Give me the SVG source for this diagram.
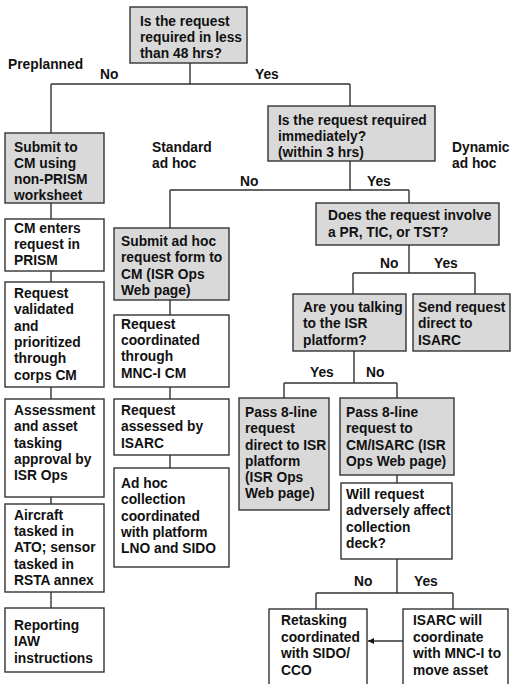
<svg xmlns="http://www.w3.org/2000/svg" width="511" height="684" viewBox="0 0 511 684">
<style>
.b{fill:#fff;stroke:#333;stroke-width:1.4}
.g{fill:#d9d9d9;stroke:#333;stroke-width:1.4}
text{font-family:"Liberation Sans",Arial,sans-serif;font-weight:bold;font-size:13.8px;fill:#111}
.c path{fill:none;stroke:#333;stroke-width:1.4}
</style>
<defs>
<marker id="ah" viewBox="0 0 10 10" refX="10" refY="5" markerWidth="6" markerHeight="6" orient="auto" markerUnits="userSpaceOnUse">
<path d="M0,0L10,5L0,10z" fill="#111"/>
</marker>
</defs>
<rect width="511" height="684" fill="#fff"/>
<g class="c" id="connectors">
<path d="M190,63V84M51,84H350M51,84V133M350,84V106"/>
<path d="M51,203V219M51,271V282M51,387V399M51,497V504M51,592V608"/>
<path d="M350,161V190M170,190H409M170,190V228M409,190V203"/>
<path d="M170,300V315M170,387V399M170,455V468"/>
<path d="M409,245V273M353,273H475M353,273V294M475,273V294"/>
<path d="M354,351V383M284,383H397M284,383V398M397,383V398"/>
<path d="M397,475V483M397,559V593M316,593H453M316,593V609M453,593V609"/>
<path d="M403,641H368" marker-end="url(#ah)"/>
</g>
<g id="labels">
<text x="8" y="69">Preplanned</text>
<text x="100" y="79">No</text>
<text x="255" y="79">Yes</text>
<text x="152" y="152">Standard</text>
<text x="152" y="168">ad hoc</text>
<text x="452" y="152">Dynamic</text>
<text x="452" y="168">ad hoc</text>
<text x="240" y="186">No</text>
<text x="367" y="186">Yes</text>
<text x="380" y="268">No</text>
<text x="434" y="268">Yes</text>
<text x="310" y="377">Yes</text>
<text x="366" y="377">No</text>
<text x="354" y="586">No</text>
<text x="414" y="586">Yes</text>
</g>
<g id="q48">
<rect class="g" x="130" y="7" width="117" height="56"/>
<text x="140" y="26">Is the request</text>
<text x="140" y="42">required in less</text>
<text x="140" y="58">than 48 hrs?</text>
</g>
<g id="qimm">
<rect class="g" x="268" y="106" width="167" height="55"/>
<text x="278" y="125">Is the request required</text>
<text x="278" y="141">immediately?</text>
<text x="278" y="157">(within 3 hrs)</text>
</g>
<g id="qpr">
<rect class="g" x="316" y="203" width="183" height="42"/>
<text x="328" y="220">Does the request involve</text>
<text x="328" y="237">a PR, TIC, or TST?</text>
</g>
<g id="qtalk">
<rect class="g" x="293" y="294" width="113" height="57"/>
<text x="303" y="312">Are you talking</text>
<text x="303" y="328">to the ISR</text>
<text x="303" y="345">platform?</text>
</g>
<g id="send">
<rect class="g" x="413" y="294" width="97" height="57"/>
<text x="418" y="312">Send request</text>
<text x="418" y="328">direct to</text>
<text x="418" y="345">ISARC</text>
</g>
<g id="passdirect">
<rect class="g" x="239" y="398" width="90" height="112"/>
<text x="245" y="417">Pass 8-line</text>
<text x="245" y="433">request</text>
<text x="245" y="450">direct to ISR</text>
<text x="245" y="466">platform</text>
<text x="245" y="482">(ISR Ops</text>
<text x="245" y="498">Web page)</text>
</g>
<g id="passcm">
<rect class="g" x="340" y="398" width="114" height="77"/>
<text x="346" y="417">Pass 8-line</text>
<text x="346" y="433">request to</text>
<text x="346" y="450">CM/ISARC (ISR</text>
<text x="346" y="466">Ops Web page)</text>
</g>
<g id="will">
<rect class="b" x="341" y="483" width="111" height="76"/>
<text x="346" y="499">Will request</text>
<text x="346" y="515">adversely affect</text>
<text x="346" y="532">collection</text>
<text x="346" y="548">deck?</text>
</g>
<g id="retask">
<rect class="b" x="269" y="609" width="98" height="85"/>
<text x="281" y="625">Retasking</text>
<text x="281" y="642">coordinated</text>
<text x="281" y="658">with SIDO/</text>
<text x="281" y="675">CCO</text>
</g>
<g id="isarc">
<rect class="b" x="403" y="609" width="105" height="85"/>
<text x="413" y="625">ISARC will</text>
<text x="413" y="642">coordinate</text>
<text x="413" y="658">with MNC-I to</text>
<text x="413" y="675">move asset</text>
</g>
<g id="submitcm">
<rect class="g" x="5" y="133" width="99" height="70"/>
<text x="14" y="152">Submit to</text>
<text x="14" y="168">CM using</text>
<text x="14" y="184">non-PRISM</text>
<text x="14" y="200">worksheet</text>
</g>
<g id="cmenters">
<rect class="b" x="5" y="219" width="99" height="52"/>
<text x="14" y="233">CM enters</text>
<text x="14" y="249">request in</text>
<text x="14" y="265">PRISM</text>
</g>
<g id="validated">
<rect class="b" x="5" y="282" width="99" height="105"/>
<text x="14" y="298">Request</text>
<text x="14" y="314">validated</text>
<text x="14" y="331">and</text>
<text x="14" y="347">prioritized</text>
<text x="14" y="363">through</text>
<text x="14" y="380">corps CM</text>
</g>
<g id="assessment">
<rect class="b" x="5" y="399" width="99" height="98"/>
<text x="14" y="415">Assessment</text>
<text x="14" y="431">and asset</text>
<text x="14" y="448">tasking</text>
<text x="14" y="464">approval by</text>
<text x="14" y="480">ISR Ops</text>
</g>
<g id="aircraft">
<rect class="b" x="5" y="504" width="99" height="88"/>
<text x="14" y="520">Aircraft</text>
<text x="14" y="536">tasked in</text>
<text x="14" y="552">ATO; sensor</text>
<text x="14" y="569">tasked in</text>
<text x="14" y="585">RSTA annex</text>
</g>
<g id="reporting">
<rect class="b" x="5" y="608" width="99" height="64"/>
<text x="14" y="630">Reporting</text>
<text x="14" y="646">IAW</text>
<text x="14" y="663">instructions</text>
</g>
<g id="submitadhoc">
<rect class="g" x="114" y="228" width="115" height="72"/>
<text x="121" y="246">Submit ad hoc</text>
<text x="121" y="262">request form to</text>
<text x="121" y="279">CM (ISR Ops</text>
<text x="121" y="295">Web page)</text>
</g>
<g id="coordinated">
<rect class="b" x="114" y="315" width="115" height="72"/>
<text x="121" y="329">Request</text>
<text x="121" y="345">coordinated</text>
<text x="121" y="361">through</text>
<text x="121" y="378">MNC-I CM</text>
</g>
<g id="assessed">
<rect class="b" x="114" y="399" width="115" height="56"/>
<text x="121" y="415">Request</text>
<text x="121" y="431">assessed by</text>
<text x="121" y="448">ISARC</text>
</g>
<g id="adhoc">
<rect class="b" x="114" y="468" width="115" height="99"/>
<text x="121" y="488">Ad hoc</text>
<text x="121" y="504">collection</text>
<text x="121" y="521">coordinated</text>
<text x="121" y="537">with platform</text>
<text x="121" y="553">LNO and SIDO</text>
</g>
</svg>
